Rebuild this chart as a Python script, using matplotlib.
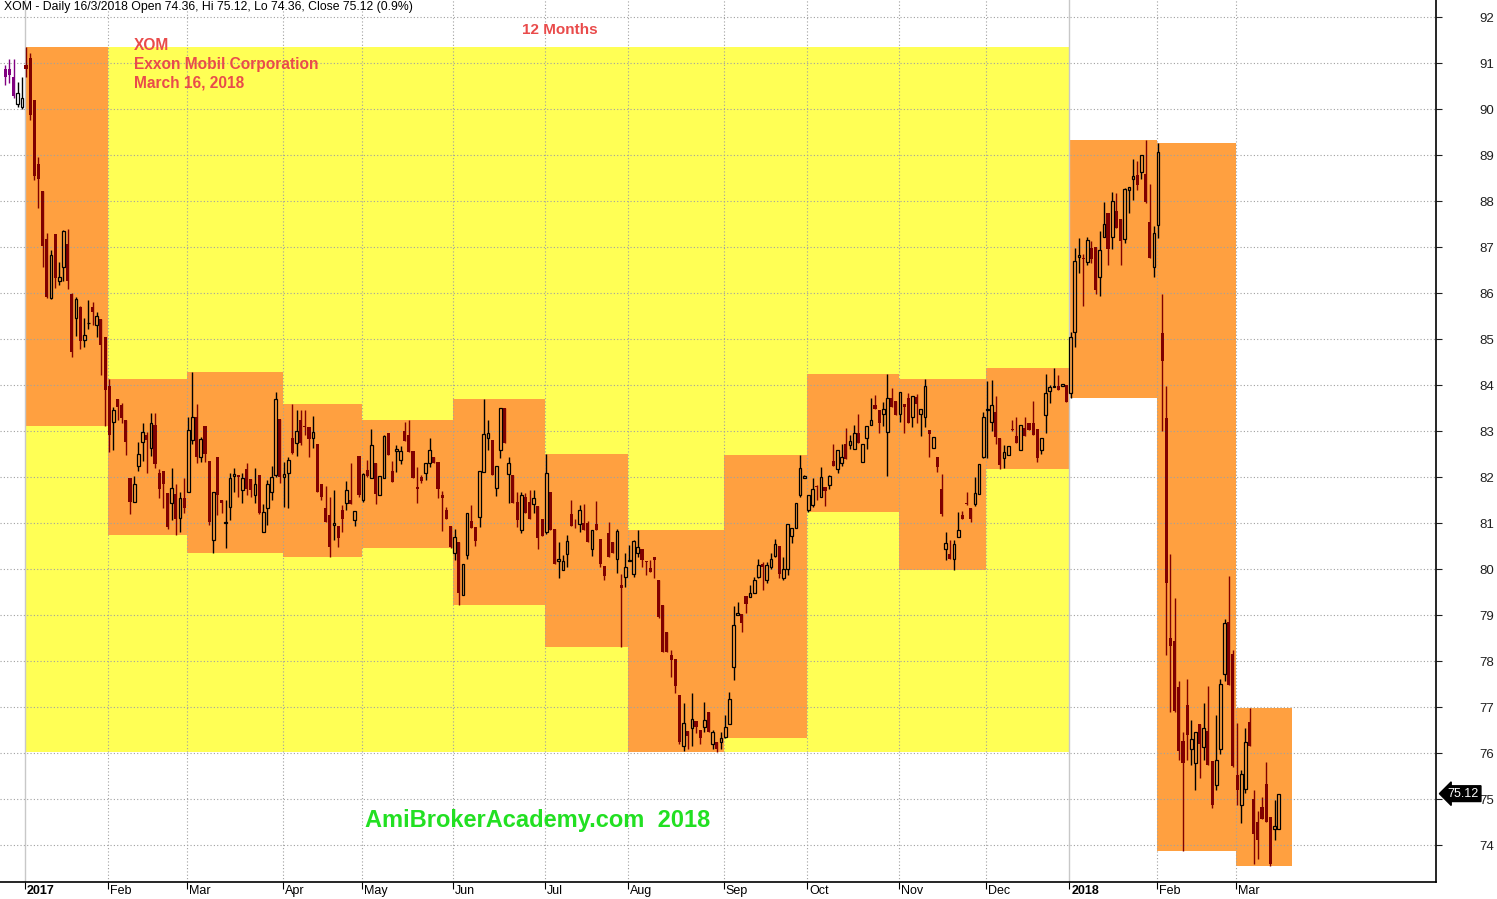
import matplotlib
matplotlib.use('Agg')
import matplotlib.pyplot as plt
import numpy as np

plt.rcParams['font.family'] = ['Liberation Sans', 'DejaVu Sans']

# Daily bars: (open, high, low, close)
dec16 = [(90.88, 90.96, 90.52, 90.70), (90.86, 91.08, 90.56, 90.75), (90.69, 91.08, 90.23, 90.28),
         (90.10, 90.59, 90.05, 90.34), (90.04, 90.69, 90.01, 90.25)]
jan17 = [(90.96, 91.34, 90.70, 90.88), (91.12, 91.22, 89.76, 89.87), (90.20, 90.20, 88.46, 88.54),
         (88.80, 88.95, 87.84, 88.49), (88.22, 88.22, 86.57, 87.03), (87.17, 87.30, 85.90, 85.92),
         (85.90, 86.93, 85.87, 86.83), (87.28, 87.28, 86.10, 86.32), (86.27, 86.68, 86.17, 86.34),
         (86.57, 87.38, 86.27, 87.35), (87.07, 87.39, 86.08, 86.27), (85.98, 86.00, 84.60, 84.72),
         (85.45, 85.92, 85.07, 85.88), (85.70, 85.72, 84.78, 84.96), (84.98, 85.45, 84.83, 85.09),
         (85.34, 85.86, 85.23, 85.35), (85.70, 85.81, 85.30, 85.59), (85.30, 85.59, 85.05, 85.51),
         (85.43, 85.43, 84.22, 84.87), (85.04, 85.04, 83.11, 83.89)]
feb17 = [(83.99, 84.13, 82.55, 82.91), (83.20, 83.53, 82.59, 83.46), (83.70, 83.70, 83.24, 83.53),
         (83.57, 83.62, 83.18, 83.28), (83.24, 83.24, 82.48, 82.77), (81.99, 81.99, 81.20, 81.46),
         (81.46, 82.02, 81.46, 81.84), (82.24, 82.77, 82.14, 82.51), (82.77, 83.17, 82.35, 82.99),
         (82.91, 82.99, 82.08, 82.80), (82.64, 83.40, 82.46, 83.17), (83.13, 83.40, 82.19, 82.28),
         (82.09, 82.17, 81.54, 81.75), (82.14, 82.14, 81.32, 81.86), (81.66, 81.66, 80.88, 80.92),
         (81.43, 82.19, 81.07, 81.77), (81.63, 81.85, 80.74, 81.08), (81.12, 81.68, 80.81, 81.54),
         (81.54, 81.97, 81.21, 81.32)]
mar17 = [(81.68, 83.31, 81.68, 83.02), (82.80, 84.28, 82.73, 83.30), (83.30, 83.59, 82.30, 82.44),
         (82.43, 82.88, 82.33, 82.82), (83.11, 83.11, 82.33, 82.51), (82.35, 82.35, 80.96, 81.03),
         (80.64, 81.68, 80.34, 81.68), (82.44, 82.44, 81.17, 81.61), (81.50, 81.50, 81.21, 81.43),
         (81.00, 81.50, 80.45, 81.01), (81.34, 82.08, 81.07, 81.99), (82.03, 82.19, 81.68, 82.07),
         (82.05, 82.05, 81.56, 82.00), (81.72, 82.08, 81.43, 81.99), (82.17, 82.31, 81.61, 81.75),
         (81.96, 81.96, 81.56, 81.72), (81.61, 82.19, 81.43, 81.86), (82.04, 82.04, 81.19, 81.22),
         (80.81, 81.41, 80.81, 81.25), (81.32, 81.93, 80.96, 81.84), (81.68, 82.24, 81.50, 82.01),
         (82.04, 83.85, 82.01, 83.69), (83.27, 83.27, 81.88, 82.01)]
apr17 = [(82.01, 82.33, 81.35, 82.06), (82.09, 82.44, 81.32, 82.37), (82.84, 83.59, 82.50, 82.53),
         (82.75, 83.46, 82.46, 83.01), (83.24, 83.46, 82.70, 82.75), (83.12, 83.46, 82.91, 83.10),
         (83.09, 83.09, 82.44, 82.83), (82.86, 83.33, 82.64, 82.97), (82.72, 82.72, 81.68, 81.68),
         (81.85, 81.85, 81.50, 81.57), (81.33, 81.80, 81.03, 81.03), (81.17, 81.57, 80.26, 80.49),
         (80.95, 81.72, 80.63, 81.01), (80.94, 80.94, 80.49, 80.68), (81.28, 81.39, 80.81, 81.09),
         (81.43, 81.92, 81.28, 81.73), (81.51, 82.30, 81.41, 81.41), (81.06, 81.26, 80.94, 81.26),
         (82.46, 82.46, 81.56, 81.61)]
may17 = [(81.50, 82.10, 81.45, 82.06), (82.15, 82.37, 82.00, 82.02), (81.97, 83.04, 81.97, 82.69),
         (82.30, 82.30, 81.41, 81.63), (81.62, 82.02, 81.62, 82.02), (81.99, 82.91, 81.99, 82.89),
         (82.95, 82.95, 82.49, 82.49), (82.13, 82.35, 81.90, 81.90), (82.57, 82.70, 82.12, 82.61),
         (82.38, 82.67, 82.28, 82.56), (83.00, 83.20, 82.78, 82.78), (82.91, 83.25, 82.54, 82.54),
         (82.57, 82.57, 81.97, 81.97), (81.78, 82.22, 81.44, 81.74), (82.00, 82.05, 81.88, 81.92),
         (82.09, 82.30, 81.93, 82.30), (82.31, 82.86, 82.22, 82.59), (82.44, 82.44, 82.30, 82.30),
         (82.33, 82.33, 81.54, 81.74), (81.61, 81.70, 80.83, 81.54), (81.28, 81.35, 81.09, 81.09),
         (80.93, 80.93, 80.46, 80.49)]
jun17 = [(80.35, 80.88, 80.20, 80.69), (80.58, 80.58, 79.23, 79.49), (79.43, 80.12, 79.43, 80.12),
         (80.30, 81.21, 80.23, 81.21), (81.04, 81.39, 80.90, 80.90), (80.92, 80.92, 80.50, 80.62),
         (81.14, 82.13, 80.92, 82.13), (82.12, 83.70, 82.12, 82.93), (82.84, 83.25, 82.59, 82.96),
         (82.80, 82.80, 82.04, 82.04), (81.77, 82.25, 81.59, 82.25), (82.60, 83.51, 82.41, 83.51),
         (83.51, 83.51, 82.75, 82.75), (82.06, 82.44, 81.43, 82.30), (82.04, 82.04, 81.43, 81.43),
         (81.46, 81.68, 80.92, 81.07), (80.85, 81.68, 80.78, 81.61), (81.57, 81.65, 81.22, 81.22),
         (81.46, 81.72, 81.10, 81.10), (81.41, 81.72, 81.21, 81.54), (81.37, 81.37, 80.43, 80.68),
         (81.09, 81.09, 80.72, 80.72)]
jul17 = [(80.80, 82.50, 80.77, 82.10), (81.67, 81.67, 80.85, 80.85), (80.87, 80.87, 80.11, 80.11),
         (80.18, 80.59, 79.81, 80.22), (79.98, 80.30, 79.98, 80.17), (80.32, 80.74, 80.05, 80.61),
         (81.20, 81.50, 80.94, 80.94), (80.97, 81.10, 80.90, 80.95), (80.99, 81.39, 80.81, 81.28),
         (81.01, 81.41, 80.85, 80.85), (81.01, 81.05, 80.59, 80.59), (80.43, 80.85, 80.28, 80.85),
         (80.98, 81.48, 80.85, 80.85), (80.65, 80.65, 80.04, 80.11), (80.07, 80.07, 79.76, 79.86),
         (80.79, 81.03, 80.27, 80.27), (80.59, 80.59, 80.36, 80.36), (80.23, 80.87, 79.92, 80.83),
         (79.65, 79.89, 78.31, 79.60), (79.82, 80.36, 79.62, 80.04)]
aug17 = [(80.17, 80.52, 80.17, 80.19), (79.90, 80.63, 79.82, 80.61), (80.34, 80.85, 80.27, 80.49),
         (80.44, 80.44, 80.05, 80.20), (80.18, 80.18, 79.87, 80.16), (80.03, 80.20, 79.94, 79.94),
         (80.27, 80.27, 79.80, 80.20), (79.76, 79.76, 78.93, 78.96), (79.23, 79.23, 78.20, 78.20),
         (78.64, 78.64, 78.20, 78.20), (78.13, 78.24, 77.66, 78.02), (78.05, 78.05, 77.30, 77.46),
         (77.26, 77.26, 76.21, 76.25), (76.15, 77.08, 76.05, 76.65), (76.48, 76.48, 76.10, 76.37),
         (76.54, 77.30, 76.15, 76.74), (76.70, 76.70, 76.43, 76.57), (76.50, 76.50, 76.20, 76.32),
         (76.56, 77.12, 76.46, 76.72), (76.90, 76.90, 76.46, 76.46), (76.21, 76.50, 76.10, 76.46),
         (76.25, 76.25, 76.03, 76.08), (76.25, 76.46, 76.08, 76.32)]
sep17 = [(76.36, 76.83, 76.34, 76.56), (76.63, 77.33, 76.63, 77.17), (77.88, 79.20, 77.60, 78.78),
         (79.00, 79.29, 79.00, 79.04), (79.02, 79.02, 78.64, 78.82), (79.41, 79.41, 79.04, 79.25),
         (79.40, 79.65, 79.40, 79.49), (79.49, 79.83, 79.49, 79.77), (79.83, 80.22, 79.80, 80.09),
         (80.12, 80.16, 79.54, 80.05), (79.77, 80.16, 79.70, 80.10), (80.05, 80.34, 80.00, 80.21),
         (80.28, 80.65, 80.27, 80.54), (80.50, 80.50, 79.80, 79.89), (79.80, 80.27, 79.76, 80.00),
         (80.01, 80.98, 79.87, 80.98), (80.72, 80.89, 80.57, 80.89), (80.89, 81.43, 80.89, 81.43),
         (81.61, 82.48, 81.57, 82.19), (81.97, 82.04, 81.97, 82.02)]
oct17 = [(81.28, 81.62, 81.24, 81.62), (81.39, 81.97, 81.35, 81.75), (81.80, 81.83, 81.50, 81.79),
         (81.56, 82.21, 81.56, 82.01), (81.79, 81.79, 81.38, 81.70), (81.83, 82.04, 81.75, 82.03),
         (82.35, 82.72, 82.24, 82.24), (82.17, 82.60, 82.09, 82.60), (82.30, 82.72, 82.24, 82.43),
         (82.73, 83.06, 82.39, 82.39), (82.69, 82.91, 82.62, 82.79), (82.62, 83.13, 82.62, 82.95),
         (82.95, 83.37, 82.75, 82.75), (82.33, 82.73, 82.33, 82.73), (82.84, 83.11, 82.62, 83.11),
         (83.14, 83.73, 83.14, 83.24), (83.57, 83.78, 83.47, 83.47), (83.46, 83.46, 82.96, 83.17),
         (83.37, 83.64, 83.11, 83.47), (82.98, 84.24, 82.02, 83.71), (83.71, 83.93, 83.53, 83.53),
         (83.66, 83.66, 83.35, 83.35)]
nov17 = [(83.38, 83.86, 83.20, 83.86), (83.60, 83.60, 82.95, 83.53), (83.73, 83.82, 83.17, 83.17),
         (83.30, 83.76, 83.09, 83.76), (83.75, 83.80, 83.17, 83.59), (83.37, 83.47, 82.89, 83.47),
         (83.30, 84.13, 83.09, 83.98), (83.02, 83.02, 82.44, 82.93), (82.64, 82.88, 82.64, 82.88),
         (82.43, 82.43, 82.12, 82.22), (81.75, 82.07, 81.16, 81.20), (80.43, 80.81, 80.20, 80.56),
         (80.33, 80.64, 80.23, 80.23), (80.23, 80.63, 79.99, 80.54), (80.69, 81.25, 80.69, 80.86),
         (81.17, 81.26, 81.09, 81.09), (81.43, 81.68, 81.40, 81.42), (81.32, 81.32, 81.03, 81.10),
         (81.41, 82.01, 81.38, 81.66), (81.64, 82.28, 81.64, 82.28), (82.44, 83.41, 82.41, 83.30)]
dec17 = [(83.45, 84.09, 82.41, 83.46), (83.20, 84.11, 83.01, 83.56), (83.41, 83.76, 82.73, 82.88),
         (82.84, 82.84, 82.18, 82.26), (82.41, 82.70, 82.19, 82.55), (82.49, 82.67, 82.49, 82.67),
         (83.04, 83.24, 83.00, 83.03), (82.89, 83.30, 82.75, 82.75), (82.60, 83.13, 82.59, 83.13),
         (83.06, 83.30, 82.90, 82.90), (83.18, 83.18, 83.02, 83.02), (83.18, 83.66, 82.91, 82.91),
         (83.05, 83.05, 82.33, 82.42), (82.60, 82.86, 82.51, 82.86), (83.35, 84.25, 82.96, 83.83),
         (83.88, 84.00, 83.62, 83.96), (83.95, 84.37, 83.95, 83.98), (83.99, 84.22, 83.89, 83.89),
         (83.98, 84.02, 83.98, 84.02), (84.00, 84.00, 83.64, 83.64)]
jan18 = [(83.82, 85.16, 83.72, 85.04), (85.16, 86.97, 84.83, 86.70), (86.79, 87.19, 86.44, 86.83),
         (86.77, 86.86, 85.73, 86.75), (86.68, 87.22, 86.61, 87.15), (86.97, 87.14, 86.65, 86.75),
         (87.01, 87.01, 85.98, 86.07), (86.36, 87.35, 85.94, 86.93), (87.21, 87.99, 87.21, 87.51),
         (87.75, 87.75, 86.61, 86.96), (87.21, 88.20, 86.95, 88.00), (87.79, 88.17, 87.41, 87.41),
         (87.60, 87.60, 86.61, 87.14), (87.17, 88.28, 87.08, 88.26), (88.25, 88.31, 87.75, 88.31),
         (88.49, 88.91, 88.02, 88.54), (88.56, 88.86, 88.24, 88.35), (88.64, 89.00, 88.49, 89.00),
         (88.59, 89.33, 87.95, 87.99), (87.55, 88.38, 86.77, 86.77), (86.56, 87.46, 86.34, 87.30)]
feb18 = [(87.49, 89.27, 87.20, 89.07), (85.14, 85.99, 83.01, 84.53), (83.29, 83.98, 78.13, 79.70),
         (78.51, 80.33, 76.90, 78.33), (78.44, 79.38, 76.90, 76.92), (77.44, 77.56, 75.85, 76.05),
         (76.26, 76.46, 73.87, 75.78), (77.04, 77.61, 75.86, 76.40), (76.10, 76.73, 75.74, 76.30),
         (75.78, 76.45, 75.20, 76.45), (76.63, 76.63, 75.46, 76.21), (76.14, 77.10, 75.85, 76.54),
         (76.48, 77.46, 75.75, 75.75), (75.83, 75.83, 74.80, 74.88), (75.30, 76.83, 75.21, 75.86),
         (76.08, 77.62, 75.98, 77.51), (77.73, 78.91, 77.57, 78.84), (78.85, 79.85, 77.49, 77.49),
         (78.15, 78.24, 75.70, 75.72)]
mar18 = [(75.52, 76.65, 74.87, 75.20), (74.88, 75.64, 74.49, 75.54), (75.23, 76.54, 75.14, 76.25),
         (76.67, 76.99, 76.16, 76.16), (75.00, 75.21, 73.59, 74.25), (74.50, 74.75, 73.71, 74.12),
         (74.83, 75.05, 74.56, 74.56), (75.32, 75.81, 74.51, 74.51), (74.62, 74.62, 73.54, 73.60),
         (74.35, 74.98, 74.12, 74.41), (74.36, 75.12, 74.36, 75.12)]

months = [dec16, jan17, feb17, mar17, apr17, may17, jun17, jul17, aug17,
          sep17, oct17, nov17, dec17, jan18, feb18, mar18]
month_labels = ['', '2017', 'Feb', 'Mar', 'Apr', 'May', 'Jun', 'Jul', 'Aug',
                'Sep', 'Oct', 'Nov', 'Dec', '2018', 'Feb', 'Mar']
price_ticks = list(range(74, 93))
n_purple = 3
last_close = 75.12

# colours
yellow = '#FFFF55'
orange = '#FFA040'
darkred = '#800000'
purple = '#800080'
red_txt = '#E94B4B'
green_txt = '#22E022'

ohlc = np.array([bar for m in months for bar in m])
o, h, l, c = ohlc.T
x = np.arange(len(ohlc))
starts = np.cumsum([0] + [len(m) for m in months])
edge = starts - 0.35
nm = len(months)

fig = plt.figure(figsize=(14.97, 8.99), dpi=100)
ax = fig.add_axes([0, 17 / 899, 1436 / 1497, 882 / 899])
ax.set_xlim(-1.25, 343.8)
ax.set_ylim(73.20, 92.37)

# 12 month range box (Jan - Dec 2017)
yr = slice(starts[1], starts[13])
ax.add_patch(plt.Rectangle((edge[1], l[yr].min()), edge[13] - edge[1],
                           h[yr].max() - l[yr].min(), color=yellow, lw=0, zorder=0.5))

# monthly range boxes
for k in range(1, nm):
    seg = slice(starts[k], starts[k + 1])
    right = edge[k + 1] if k + 1 < nm else edge[k] + 13.5
    ax.add_patch(plt.Rectangle((edge[k], l[seg].min()), right - edge[k],
                               h[seg].max() - l[seg].min(), color=orange, lw=0, zorder=0.6))

# grid
for p in price_ticks:
    ax.axhline(p, color='#A0A0A0', lw=0.8, ls=(0, (1, 2)), zorder=1)
for k in range(1, nm):
    if month_labels[k].isdigit():
        ax.axvline(edge[k], color='#C8C8C8', lw=1, zorder=1)
    else:
        ax.axvline(edge[k], color='#A0A0A0', lw=0.8, ls=(0, (1, 2)), zorder=1)

# candles
w = 0.75
idx = np.arange(len(ohlc))
pur = idx < n_purple
up = (c >= o) & ~pur
dn = (c < o) & ~pur

ax.vlines(x[dn], l[dn], h[dn], color=darkred, lw=1.0, zorder=3)
ax.bar(x[dn], (o - c)[dn], bottom=c[dn], width=w, color=darkred, zorder=3)

ax.vlines(x[up], c[up], h[up], color='black', lw=1.0, zorder=3)
ax.vlines(x[up], l[up], o[up], color='black', lw=1.0, zorder=3)
ax.bar(x[up], np.maximum((c - o)[up], 0.02), bottom=o[up], width=w * 0.85,
       facecolor='none', edgecolor='black', lw=0.9, zorder=3)

bot = np.minimum(o, c)
ax.vlines(x[pur], l[pur], h[pur], color=purple, lw=1.0, zorder=3)
ax.bar(x[pur], np.abs(o - c)[pur], bottom=bot[pur], width=w, color=purple, zorder=3)

# axes styling
for s in ['left', 'top']:
    ax.spines[s].set_visible(False)
ax.spines['right'].set_linewidth(1.2)
ax.spines['bottom'].set_linewidth(1.2)

ax.yaxis.tick_right()
ax.set_yticks(price_ticks)
ax.set_yticklabels([str(p) for p in price_ticks])
ax.tick_params(axis='y', length=4, width=0.8, pad=27, labelsize=9.5, colors='#202020')

ax.set_xticks(edge[1:nm])
ax.set_xticklabels([])
ax.tick_params(axis='x', length=5, width=0.8, direction='out')

for k in range(1, nm):
    bold = month_labels[k].isdigit()
    ax.annotate(month_labels[k], xy=(edge[k], 0), xycoords=('data', 'axes fraction'),
                xytext=(1.5, -2.5), textcoords='offset points', ha='left', va='top',
                fontsize=9, fontweight='bold' if bold else 'normal', annotation_clip=False)

# last price tag
ax.annotate(f'{last_close:.2f}', xy=(1, last_close), xycoords=('axes fraction', 'data'),
            xytext=(8.5, 0), textcoords='offset points', ha='left', va='center',
            fontsize=9, color='white', annotation_clip=False, zorder=10,
            bbox=dict(boxstyle='larrow,pad=0.15', fc='black', ec='black'))

# texts
fig.text(4 / 1497, 1 - 7 / 899,
         'XOM - Daily 16/3/2018 Open 74.36, Hi 75.12, Lo 74.36, Close 75.12 (0.9%)',
         ha='left', va='center', fontsize=8.8, color='black')
for i, t in enumerate(['XOM', 'Exxon Mobil Corporation', 'March 16, 2018']):
    fig.text(134 / 1497, 1 - (45 + 19 * i) / 899, t, ha='left', va='center',
             fontsize=11.2, fontweight='bold', color=red_txt)
fig.text(560 / 1497, 1 - 30 / 899, '12 Months', ha='center', va='center',
         fontsize=11, fontweight='bold', color=red_txt)
fig.text(365 / 1497, 1 - 820 / 899, 'AmiBrokerAcademy.com  2018', ha='left', va='center',
         fontsize=17, fontweight='bold', color=green_txt)

fig.savefig('out.png', dpi=100)
